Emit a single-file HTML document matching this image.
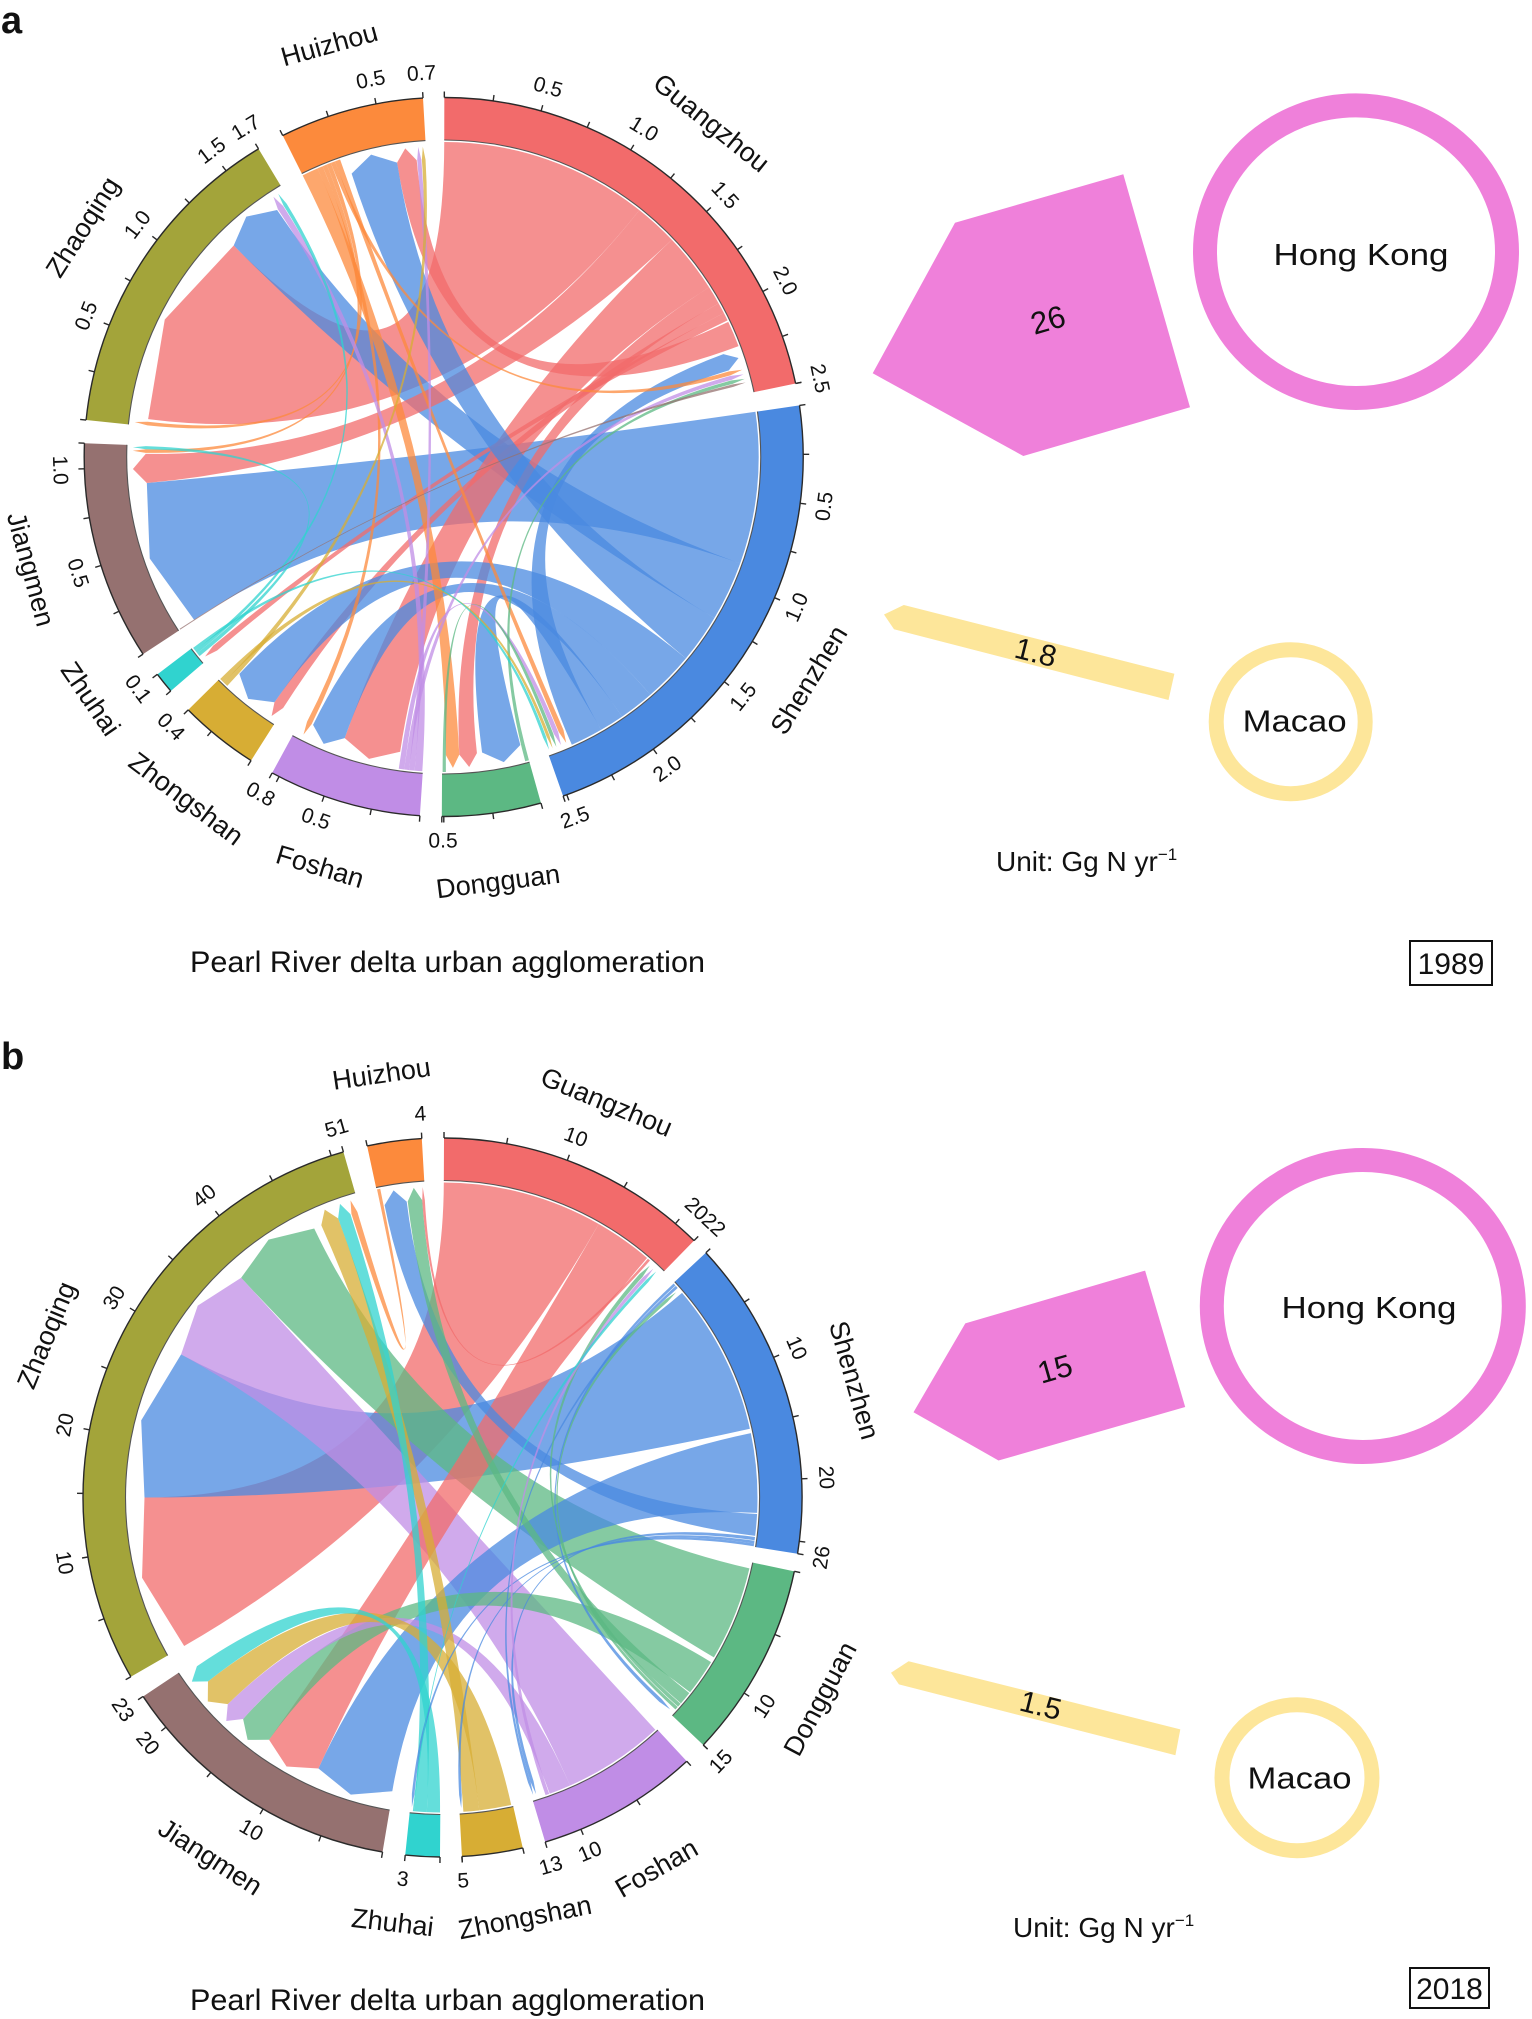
<!DOCTYPE html>
<html><head><meta charset="utf-8"><style>
html,body{margin:0;padding:0;background:#fff;}
svg{display:block;}
text{font-family:"Liberation Sans",Arial,sans-serif;fill:#111;}
.tk{font-size:21px;text-anchor:middle;dominant-baseline:central;}
.nm{font-size:27px;text-anchor:middle;dominant-baseline:central;}
</style></head><body>
<svg id="s" width="1532" height="2019" viewBox="0 0 1532 2019" xmlns="http://www.w3.org/2000/svg">
<rect width="1532" height="2019" fill="#fff"/>
<g id="ga"></g>
<g id="gb"></g>

<!-- Panel a labels -->
<text x="1" y="33" font-size="38" font-weight="bold">a</text>
<g transform="translate(443.7,457)">
<text class="tk" transform="rotate(-74.25) translate(384,0) rotate(90)">0.5</text>
<text class="tk" transform="rotate(-58.6) translate(384,0) rotate(90)">1.0</text>
<text class="tk" transform="rotate(-42.95) translate(384,0) rotate(90)">1.5</text>
<text class="tk" transform="rotate(-27.3) translate(384,0) rotate(90)">2.0</text>
<text class="tk" transform="rotate(-11.8) translate(384,0) rotate(90)">2.5</text>
<text class="tk" transform="rotate(7.4) translate(384,0) rotate(-90)">0.5</text>
<text class="tk" transform="rotate(23.05) translate(384,0) rotate(-90)">1.0</text>
<text class="tk" transform="rotate(38.7) translate(384,0) rotate(-90)">1.5</text>
<text class="tk" transform="rotate(54.35) translate(384,0) rotate(-90)">2.0</text>
<text class="tk" transform="rotate(70) translate(384,0) rotate(-90)">2.5</text>
<text class="tk" transform="rotate(90.1) translate(384,0) rotate(-90)">0.5</text>
<text class="tk" transform="rotate(109.45) translate(384,0) rotate(-90)">0.5</text>
<text class="tk" transform="rotate(118.5) translate(384,0) rotate(-90)">0.8</text>
<text class="tk" transform="rotate(135.3) translate(384,0) rotate(-90)">0.4</text>
<text class="tk" transform="rotate(142.8) translate(384,0) rotate(-90)">0.1</text>
<text class="tk" transform="rotate(162.4) translate(384,0) rotate(-90)">0.5</text>
<text class="tk" transform="rotate(178.05) translate(384,0) rotate(-90)">1.0</text>
<text class="tk" transform="rotate(-158.45) translate(384,0) rotate(90)">0.5</text>
<text class="tk" transform="rotate(-142.8) translate(384,0) rotate(90)">1.0</text>
<text class="tk" transform="rotate(-127.15) translate(384,0) rotate(90)">1.5</text>
<text class="tk" transform="rotate(-121) translate(384,0) rotate(90)">1.7</text>
<text class="tk" transform="rotate(-100.95) translate(384,0) rotate(90)">0.5</text>
<text class="tk" transform="rotate(-93.3) translate(384,0) rotate(90)">0.7</text>

<text class="nm" transform="rotate(-105.5) translate(428,0) rotate(90)">Huizhou</text>
<text class="nm" transform="rotate(-51.3) translate(428,0) rotate(90)">Guangzhou</text>
<text class="nm" transform="rotate(31.4) translate(428,0) rotate(-90)">Shenzhen</text>
<text class="nm" transform="rotate(82.7) translate(428,0) rotate(-90)">Dongguan</text>
<text class="nm" transform="rotate(106.8) translate(428,0) rotate(-90)">Foshan</text>
<text class="nm" transform="rotate(127) translate(428,0) rotate(-90)">Zhongshan</text>
<text class="nm" transform="rotate(145.6) translate(428,0) rotate(-90)">Zhuhai</text>
<text class="nm" transform="rotate(164.8) translate(428,0) rotate(-90)">Jiangmen</text>
<text class="nm" transform="rotate(-147.5) translate(428,0) rotate(90)">Zhaoqing</text>
</g>

<!-- Panel a right side -->
<polygon points="872.7,373.3 955,222.7 1123.3,174.3 1190,407.3 1023.3,456" fill="#ef80da"/>
<text x="1048" y="320" font-size="31" text-anchor="middle" dominant-baseline="central" transform="rotate(-16 1048 320)">26</text>
<ellipse cx="1356" cy="251.7" rx="151" ry="146.3" fill="none" stroke="#ef80da" stroke-width="24"/>
<text x="1361" y="265" font-size="31" text-anchor="middle" textLength="175" lengthAdjust="spacingAndGlyphs">Hong Kong</text>
<polygon points="884,614.5 903.8,605 1174.4,673.8 1168.5,700 894,629.3" fill="#fde69a"/>
<text x="1035.6" y="653" font-size="30" text-anchor="middle" dominant-baseline="central" transform="rotate(14 1035.6 653)">1.8</text>
<ellipse cx="1290.7" cy="721.7" rx="74.5" ry="72" fill="none" stroke="#fde69a" stroke-width="15"/>
<text x="1294.6" y="731.5" font-size="31" text-anchor="middle" textLength="104" lengthAdjust="spacingAndGlyphs">Macao</text>
<text x="996" y="871" font-size="28">Unit: Gg N yr<tspan dy="-11" font-size="17">−1</tspan></text>
<text x="190" y="972" font-size="30" textLength="515" lengthAdjust="spacingAndGlyphs">Pearl River delta urban agglomeration</text>
<rect x="1410" y="941" width="82" height="44" fill="none" stroke="#111" stroke-width="2"/>
<text x="1451" y="974" font-size="30" text-anchor="middle">1989</text>

<!-- Panel b labels -->
<text x="1" y="1069" font-size="38" font-weight="bold">b</text>
<g transform="translate(442.5,1497.5)">
<text class="tk" transform="rotate(-69.7) translate(384,0) rotate(90)">10</text>
<text class="tk" transform="rotate(-46.9) translate(384,0) rotate(90)">2022</text>
<text class="tk" transform="rotate(-22.9) translate(384,0) rotate(90)">10</text>
<text class="tk" transform="rotate(-3.0) translate(384,0) rotate(90)">20</text>
<text class="tk" transform="rotate(9.0) translate(384,0) rotate(-90)">26</text>
<text class="tk" transform="rotate(32.95) translate(384,0) rotate(-90)">10</text>
<text class="tk" transform="rotate(43.5) translate(384,0) rotate(-90)">15</text>
<text class="tk" transform="rotate(67.4) translate(384,0) rotate(-90)">10</text>
<text class="tk" transform="rotate(73.6) translate(384,0) rotate(-90)">13</text>
<text class="tk" transform="rotate(86.9) translate(384,0) rotate(-90)">5</text>
<text class="tk" transform="rotate(95.95) translate(384,0) rotate(-90)">3</text>
<text class="tk" transform="rotate(119.9) translate(384,0) rotate(-90)">10</text>
<text class="tk" transform="rotate(140.2) translate(384,0) rotate(-90)">20</text>
<text class="tk" transform="rotate(146.4) translate(384,0) rotate(-90)">23</text>
<text class="tk" transform="rotate(170.2) translate(384,0) rotate(-90)">10</text>
<text class="tk" transform="rotate(-169.1) translate(384,0) rotate(90)">20</text>
<text class="tk" transform="rotate(-148.7) translate(384,0) rotate(90)">30</text>
<text class="tk" transform="rotate(-128.3) translate(384,0) rotate(90)">40</text>
<text class="tk" transform="rotate(-106) translate(384,0) rotate(90)">51</text>
<text class="tk" transform="rotate(-93.3) translate(384,0) rotate(90)">4</text>

<text class="nm" transform="rotate(-98.2) translate(428,0) rotate(90)">Huizhou</text>
<text class="nm" transform="rotate(-67.45) translate(428,0) rotate(90)">Guangzhou</text>
<text class="nm" transform="rotate(-15.9) translate(428,0) rotate(90)">Shenzhen</text>
<text class="nm" transform="rotate(28.06) translate(428,0) rotate(-90)">Dongguan</text>
<text class="nm" transform="rotate(60) translate(428,0) rotate(-90)">Foshan</text>
<text class="nm" transform="rotate(78.9) translate(428,0) rotate(-90)">Zhongshan</text>
<text class="nm" transform="rotate(96.7) translate(428,0) rotate(-90)">Zhuhai</text>
<text class="nm" transform="rotate(122.85) translate(428,0) rotate(-90)">Jiangmen</text>
<text class="nm" transform="rotate(-157.7) translate(428,0) rotate(90)">Zhaoqing</text>
</g>

<!-- Panel b right side -->
<polygon points="913.5,1412.2 965.3,1323.4 1145.1,1270.6 1185.2,1407 998.5,1460.5" fill="#ef80da"/>
<text x="1055" y="1369" font-size="31" text-anchor="middle" dominant-baseline="central" transform="rotate(-16 1055 1369)">15</text>
<ellipse cx="1362.8" cy="1306" rx="151" ry="146" fill="none" stroke="#ef80da" stroke-width="24"/>
<text x="1369" y="1318" font-size="31" text-anchor="middle" textLength="175" lengthAdjust="spacingAndGlyphs">Hong Kong</text>
<polygon points="891,1672.8 908.6,1661.2 1180.3,1729.4 1175.4,1755.2 898.9,1684.4" fill="#fde69a"/>
<text x="1040.5" y="1706" font-size="30" text-anchor="middle" dominant-baseline="central" transform="rotate(14 1040.5 1706)">1.5</text>
<ellipse cx="1297" cy="1777.7" rx="75" ry="73" fill="none" stroke="#fde69a" stroke-width="15"/>
<text x="1299.5" y="1788.5" font-size="31" text-anchor="middle" textLength="104" lengthAdjust="spacingAndGlyphs">Macao</text>
<text x="1013" y="1937" font-size="28">Unit: Gg N yr<tspan dy="-11" font-size="17">−1</tspan></text>
<text x="190" y="2010" font-size="30" textLength="515" lengthAdjust="spacingAndGlyphs">Pearl River delta urban agglomeration</text>
<rect x="1410" y="1968" width="79" height="40" fill="none" stroke="#111" stroke-width="2"/>
<text x="1449.5" y="1999" font-size="30" text-anchor="middle">2018</text>
</svg>
<script>
const COL={G:'#f26b6b',S:'#4a89e0',D:'#5cb883',F:'#c08de6',Zs:'#d7ad34',Zh:'#30d3cf',J:'#957170',Zq:'#a3a43a',H:'#fc8a3c'};
function build(gid,cx,cy,secs,tot,step,chords){
  const RO=359.5,RI=317,RC=315,RT=298,RTIP=311;
  const P=(r,d)=>{const a=d*Math.PI/180;return (cx+r*Math.cos(a)).toFixed(2)+' '+(cy-r*Math.sin(a)).toFixed(2);};
  let h='';
  chords.forEach(c=>{const [s,a1,a2,b1,b2]=c;const la=(a1-a2)>180?1:0;const bm=(b1+b2)/2;
    h+='<path d="M'+P(RC,a1)+' A'+RC+' '+RC+' 0 '+la+' 1 '+P(RC,a2)+' Q'+cx+' '+cy+' '+P(RT,b1)+' L'+P(RTIP,bm)+' L'+P(RT,b2)+' Q'+cx+' '+cy+' '+P(RC,a1)+'Z" fill="'+COL[s]+'" fill-opacity="0.75"/>';});
  for(const k in secs){const a1=secs[k][0],a2=secs[k][1];const la=(a1-a2)>180?1:0;
    h+='<path d="M'+P(RO,a1)+' A'+RO+' '+RO+' 0 '+la+' 1 '+P(RO,a2)+' L'+P(RI,a2)+' A'+RI+' '+RI+' 0 '+la+' 0 '+P(RI,a1)+'Z" fill="'+COL[k]+'"/>';
    h+='<path d="M'+P(RO,a1)+' A'+RO+' '+RO+' 0 '+la+' 1 '+P(RO,a2)+'" fill="none" stroke="#2a2a2a" stroke-width="1.4"/>';
    h+='<path d="M'+P(RI,a1)+' A'+RI+' '+RI+' 0 '+la+' 1 '+P(RI,a2)+'" fill="none" stroke="#555" stroke-width="1.1"/>';
    const T=tot[k],kk=(a1-a2)/T;
    for(let v=0;v<=T+1e-9;v+=step){const d=a1-v*kk;h+='<path d="M'+P(RO,d)+' L'+P(RO+6,d)+'" stroke="#2a2a2a" stroke-width="1.4"/>';}
    h+='<path d="M'+P(RO,a2)+' L'+P(RO+6,a2)+'" stroke="#2a2a2a" stroke-width="1.4"/>';
  }
  document.getElementById(gid).innerHTML=h;
}
build('ga',443.7,457,
 {G:[89.9,11.8],S:[8.25,-70.6],D:[-74.3,-90.3],F:[-93.8,-118.5],Zs:[-122.4,-135.3],Zh:[-139.4,-142.8],J:[-146.75,-182.2],Zq:[174.1,121],H:[116.6,93.3]},
 {G:2.5,S:2.52,D:0.51,F:0.79,Zs:0.41,Zh:0.11,J:1.13,Zq:1.7,H:0.74},0.25,
 [['G',89.9,51.6,172.7,134.8],
  ['S',8.25,-19.75,-146.9,-175],
  ['S',-19.75,-30.75,134.8,124],
  ['G',51.6,43.6,-175,-180.6],
  ['G',43.6,32.6,-98.4,-109.4],
  ['G',32.6,29.2,-83.6,-87],
  ['G',29.2,27.2,-122.6,-124.6],
  ['G',27.2,25.7,-139.5,-140.7],
  ['G',25.4,20.6,99,95.2],
  ['S',-30.75,-39.75,108,99],
  ['S',-39.75,-49,-124.6,-133.3],
  ['S',-49,-55.5,-109.4,-116],
  ['S',-55.5,-60,-75.1,-82.6],
  ['S',-60,-66,20.2,16.9],
  ['H',116.6,113.6,-87,-89.6],
  ['H',113.6,112.6,-116.3,-117.3],
  ['H',112.6,111.8,-180.8,-181.5],
  ['H',111.8,111.0,173.9,173.2],
  ['H',111.0,110.2,16.7,15.9],
  ['H',110.2,109.2,-66.3,-67.3],
  ['F',-93.9,-95.3,123.8,122.6],
  ['F',-95.3,-96.3,95.1,94.3],
  ['F',-96.3,-97.2,15.8,15.0],
  ['F',-97.2,-98.2,-67.4,-68.3],
  ['D',-74.3,-75.0,14.9,14.2],
  ['D',-89.6,-90.2,-68.4,-69.1],
  ['Zs',-133.4,-134.3,94.2,93.5],
  ['Zs',-134.3,-135.2,-69.2,-69.8],
  ['Zh',-140.8,-141.5,-181.5,-182.1],
  ['Zh',-141.5,-142.1,122.5,121.8],
  ['Zh',-142.1,-142.7,-69.9,-70.5],
  ['J',-146.76,-146.95,14.1,13.6]]);
build('gb',442.5,1497.5,
 {G:[89.76,45.6],S:[42.9,-9.0],D:[-11.85,-43.5],F:[-47.2,-73.4],Zs:[-77.1,-86.9],Zh:[-90.4,-95.95],J:[-99.6,-146.4],Zq:[209.9,106],H:[102.1,93.3]},
 {G:22,S:26,D:15,F:13,Zs:5,Zh:3,J:23,Zq:51,H:4},5,
 [['G',89.76,60.26,209.9,180],
  ['S',40.5,12.6,180,151.3],
  ['F',-47.5,-66.1,151.3,132.5],
  ['D',-13,-30.5,132.5,115.5],
  ['G',60.26,49.5,-114.6,-125.6],
  ['S',11.8,-2.8,-99.7,-114.6],
  ['S',-3,-7,101.2,96.9],
  ['D',-31.5,-38.2,-125.6,-132],
  ['D',-38.4,-40.8,96.7,93.9],
  ['F',-66.1,-70.1,-132,-136.1],
  ['Zs',-77.4,-83.3,-136.1,-141.9],
  ['Zs',-83.3,-86.2,114,110.5],
  ['Zh',-90.45,-92.85,-141.9,-145.5],
  ['Zh',-92.85,-95.2,110.5,108],
  ['H',102.0,101.4,107.8,106.6],
  ['G',49.3,48.8,93.9,93.4],
  ['S',-7.2,-7.8,-72.2,-72.8],
  ['S',-7.9,-8.4,-86.3,-86.8],
  ['S',-8.4,-8.9,-95.4,-95.9],
  ['S',42.8,42.3,-42.6,-43.3],
  ['S',42.2,41.7,-72.8,-73.3],
  ['D',-40.9,-41.6,48.6,47.8],
  ['D',-41.7,-42.3,41.6,41.0],
  ['F',-70.2,-70.9,47.7,47.0],
  ['Zh',-95.2,-95.4,46.9,46.3]]);
</script>
</body></html>
